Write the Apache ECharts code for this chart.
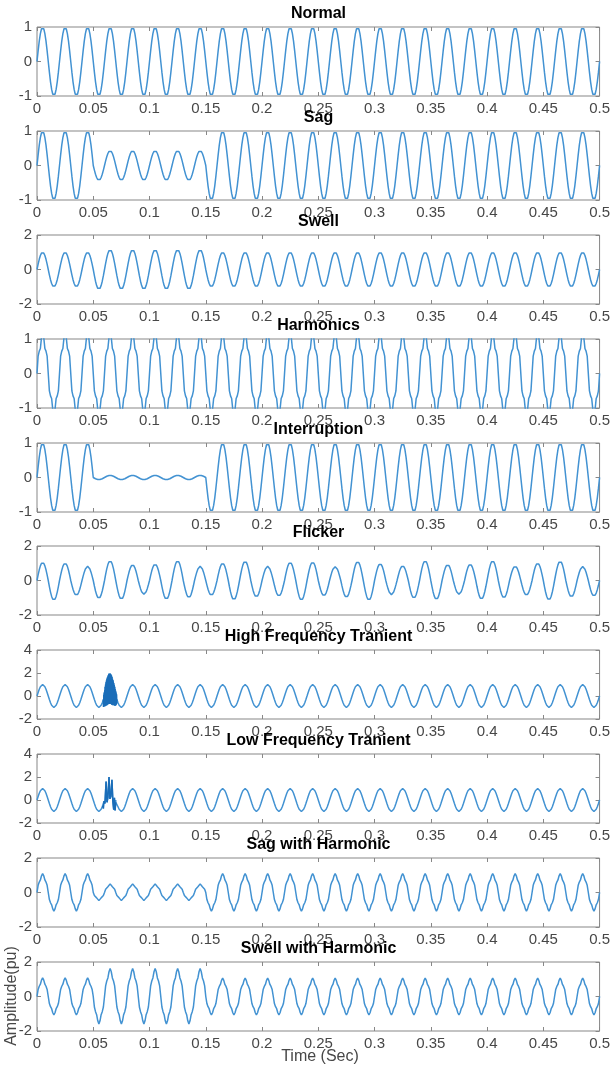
<!DOCTYPE html>
<html>
<head>
<meta charset="utf-8">
<title>Power quality disturbances</title>
<script src="https://cdn.jsdelivr.net/npm/echarts@6/dist/echarts.min.js"></script>
<style>
html, body { margin: 0; padding: 0; background: #fff; }
#chart { width: 613px; height: 1072px; }
</style>
</head>
<body>
<div id="chart"></div>
<script>
// ---- data ----
var titles = ['Normal', 'Sag', 'Swell', 'Harmonics', 'Interruption', 'Flicker',
  'High Frequency Tranient', 'Low Frequency Tranient', 'Sag with Harmonic', 'Swell with Harmonic'];
var xTickLabels = ['0', '0.05', '0.1', '0.15', '0.2', '0.25', '0.3', '0.35', '0.4', '0.45', '0.5'];
var yMins = [-1, -1, -2, -1, -1, -2, -2, -2, -2, -2];
var yMaxs = [1, 1, 2, 1, 1, 2, 4, 4, 2, 2];
var ySteps = [1, 1, 2, 1, 1, 2, 2, 2, 2, 2];

// one half cycle (0.01 s) of the 50 Hz wave, 10 samples, peak = 1
var sineShape = [0, 0.31, 0.59, 0.81, 0.95, 1, 0.95, 0.81, 0.59, 0.31];
// strongly distorted half cycle (goes past the axis and gets clipped flat)
var harmShape = [0, 0.46, 0.59, 0.66, 0.95, 1.15, 0.95, 0.66, 0.59, 0.46];
// mildly distorted half cycle, peak = 1
var harmShape2 = [0, 0.38, 0.55, 0.66, 0.88, 1, 0.88, 0.66, 0.55, 0.38];

// peak of each half cycle, 50 half cycles from 0 to 0.5 s
var normalAmp = [1, 1, 1, 1, 1, 1, 1, 1, 1, 1,  1, 1, 1, 1, 1, 1, 1, 1, 1, 1,
  1, 1, 1, 1, 1, 1, 1, 1, 1, 1,  1, 1, 1, 1, 1, 1, 1, 1, 1, 1,  1, 1, 1, 1, 1, 1, 1, 1, 1, 1];
var sagAmp = [1, 1, 1, 1, 1, 0.43, 0.43, 0.43, 0.43, 0.43,  0.43, 0.43, 0.43, 0.43, 0.43, 1, 1, 1, 1, 1,
  1, 1, 1, 1, 1, 1, 1, 1, 1, 1,  1, 1, 1, 1, 1, 1, 1, 1, 1, 1,  1, 1, 1, 1, 1, 1, 1, 1, 1, 1];
var swellAmp = [1, 1, 1, 1, 1, 1.15, 1.15, 1.15, 1.15, 1.15,  1.15, 1.15, 1.15, 1.15, 1.15, 1, 1, 1, 1, 1,
  1, 1, 1, 1, 1, 1, 1, 1, 1, 1,  1, 1, 1, 1, 1, 1, 1, 1, 1, 1,  1, 1, 1, 1, 1, 1, 1, 1, 1, 1];
var harmAmp = [1.1, 1.1, 1.1, 1.1, 1.1, 1.1, 1.1, 1.1, 1.1, 1.1,  1.1, 1.1, 1.1, 1.1, 1.1, 1.1, 1.1, 1.1, 1.1, 1.1,
  1.1, 1.1, 1.1, 1.1, 1.1, 1.1, 1.1, 1.1, 1.1, 1.1,  1.1, 1.1, 1.1, 1.1, 1.1, 1.1, 1.1, 1.1, 1.1, 1.1,
  1.1, 1.1, 1.1, 1.1, 1.1, 1.1, 1.1, 1.1, 1.1, 1.1];
var interAmp = [1, 1, 1, 1, 1, 0.06, 0.06, 0.06, 0.06, 0.06,  0.06, 0.06, 0.06, 0.06, 0.06, 1, 1, 1, 1, 1,
  1, 1, 1, 1, 1, 1, 1, 1, 1, 1,  1, 1, 1, 1, 1, 1, 1, 1, 1, 1,  1, 1, 1, 1, 1, 1, 1, 1, 1, 1];
var flickerAmp = [1.05, 1.14, 1.01, 0.86, 0.82, 1.03, 1.14, 1.09, 0.91, 0.8,
  0.95, 1.09, 1.14, 0.99, 0.82, 0.86, 1.0, 1.12, 1.12, 0.95,
  0.82, 0.9, 1.05, 1.14, 1.07, 0.88, 0.8, 0.97, 1.1, 1.14,
  0.97, 0.82, 0.85, 1.02, 1.14, 1.1, 0.92, 0.8, 0.94, 1.08,
  1.14, 1.0, 0.83, 0.85, 1.0, 1.13, 1.12, 0.95, 0.81, 0.9];
var hfAmp = normalAmp.slice();
var lfAmp = normalAmp.slice();
var sagHarmAmp = [1.1, 1.08, 1.1, 1.08, 1.1, 0.47, 0.5, 0.47, 0.5, 0.47,  0.5, 0.47, 0.5, 0.47, 0.5, 1.08, 1.1, 1.08, 1.1, 1.08,
  1.1, 1.08, 1.1, 1.08, 1.1, 1.08, 1.1, 1.08, 1.1, 1.08,  1.1, 1.08, 1.1, 1.08, 1.1, 1.08, 1.1, 1.08, 1.1, 1.08,
  1.1, 1.08, 1.1, 1.08, 1.1, 1.08, 1.1, 1.08, 1.1, 1.08];
var swellHarmAmp = [1.08, 1.07, 1.08, 1.07, 1.08, 1.6, 1.63, 1.6, 1.63, 1.6,  1.63, 1.6, 1.63, 1.6, 1.63, 1.07, 1.06, 1.07, 1.06, 1.07,
  1.06, 1.07, 1.06, 1.07, 1.06, 1.07, 1.06, 1.07, 1.06, 1.07,  1.06, 1.07, 1.06, 1.07, 1.06, 1.07, 1.06, 1.07, 1.06, 1.07,
  1.06, 1.07, 1.06, 1.07, 1.06, 1.07, 1.06, 1.07, 1.06, 1.07];

// high-frequency burst, 0.059..0.071 s, one sample every 0.0002 s
var hfBurstStart = 0.059;
var hfBurstStep = 0.0002;
var hfBurst = [-0.3, -0.95, 0.1, -0.9, 0.3, -0.9, 0.5, -0.9, 0.8, -0.85,
  1.0, -0.85, 1.2, -0.8, 1.35, -0.8, 1.5, -0.75, 1.6, -0.75,
  1.7, -0.7, 1.8, -0.7, 1.9, -0.7, 1.95, -0.7, 1.95, -0.7,
  1.95, -0.7, 1.9, -0.7, 1.85, -0.7, 1.75, -0.75, 1.65, -0.75,
  1.5, -0.75, 1.4, -0.8, 1.25, -0.8, 1.1, -0.8, 0.95, -0.8,
  0.8, -0.85, 0.6, -0.85, 0.45, -0.8, 0.3, -0.75, 0.15, -0.65, -0.3];
// low-frequency spikes, [time, value]
var lfSpikes = [[0.0582, -0.5], [0.0590, -0.75], [0.0596, -0.1], [0.0604, -0.3], [0.0614, 1.6], [0.0622, -0.2],
  [0.0630, 0.2], [0.0640, 2.0], [0.0648, 0.1], [0.0656, 0.3], [0.0666, 1.75], [0.0674, -0.1],
  [0.0682, -0.85], [0.0688, 0.2], [0.0694, -0.9], [0.0700, -0.2]];

var panelAmps = [normalAmp, sagAmp, swellAmp, harmAmp, interAmp, flickerAmp, hfAmp, lfAmp, sagHarmAmp, swellHarmAmp];
var panelShapes = [sineShape, sineShape, sineShape, harmShape, sineShape, sineShape, sineShape, sineShape, harmShape2, harmShape2];

(function () {
  // ---- layout ----
  var gridTops = [27, 131, 235, 339, 443, 546, 650, 754, 858, 962];
  var gridHeight = 69;
  var gridLeft = 37, gridRight = 13;
  var lineColor = '#4292d2';
  var burstColor = '#1a6db8';
  var boxColor = '#878787';
  var labelColor = '#474747';
  var fontFamily = '"Liberation Sans", Arial, sans-serif';

  function buildWave(amps, shape, from, to, extra) {
    var pts = [];
    for (var k = 0; k < amps.length; k++) {
      var sign = k % 2 === 0 ? 1 : -1;
      for (var j = 0; j < shape.length; j++) {
        var t = Math.round((k + j / shape.length) * 0.01 * 1e6) / 1e6;
        if (extra && t > from && t < to) continue;
        pts.push([t, sign * amps[k] * shape[j]]);
      }
    }
    pts.push([0.5, 0]);
    if (extra) {
      for (var e = 0; e < extra.length; e++) pts.push([extra[e][0], extra[e][1]]);
      pts.sort(function (a, b) { return a[0] - b[0]; });
    }
    return pts;
  }

  function makeTick() {
    return { show: true, inside: true, length: 4, lineStyle: { color: boxColor, width: 1 } };
  }

  function noLine() {
    return { show: false, onZero: false };
  }

  function xLabel(v) {
    return xTickLabels[Math.round(v / 0.05)];
  }

  var hfPoints = [];
  for (var h = 0; h < hfBurst.length; h++) {
    hfPoints.push([Math.round((hfBurstStart + h * hfBurstStep) * 1e6) / 1e6, hfBurst[h]]);
  }

  var grids = [], xAxes = [], yAxes = [], series = [], titleList = [];
  for (var i = 0; i < titles.length; i++) {
    var panelTop = gridTops[i];
    grids.push({ left: gridLeft, right: gridRight, top: panelTop, height: gridHeight,
      show: true, borderColor: boxColor, borderWidth: 1 });
    xAxes.push({ gridIndex: i, type: 'value', min: 0, max: 0.5, interval: 0.05, position: 'bottom',
      axisLine: noLine(), axisTick: makeTick(), splitLine: { show: false },
      axisLabel: { margin: 5, color: labelColor, fontSize: 15, fontFamily: fontFamily, formatter: xLabel } });
    xAxes.push({ gridIndex: i, type: 'value', min: 0, max: 0.5, interval: 0.05, position: 'top',
      axisLine: noLine(), axisTick: makeTick(), splitLine: { show: false }, axisLabel: { show: false } });
    yAxes.push({ gridIndex: i, type: 'value', min: yMins[i], max: yMaxs[i], interval: ySteps[i], position: 'left',
      axisLine: noLine(), axisTick: makeTick(), splitLine: { show: false },
      axisLabel: { margin: 5, color: labelColor, fontSize: 15, fontFamily: fontFamily } });
    yAxes.push({ gridIndex: i, type: 'value', min: yMins[i], max: yMaxs[i], interval: ySteps[i], position: 'right',
      axisLine: noLine(), axisTick: makeTick(), splitLine: { show: false }, axisLabel: { show: false } });

    var data;
    if (i === 6) data = buildWave(panelAmps[i], panelShapes[i], 0.059, 0.071, hfPoints);
    else if (i === 7) data = buildWave(panelAmps[i], panelShapes[i], 0.058, 0.07, lfSpikes);
    else data = buildWave(panelAmps[i], panelShapes[i]);

    series.push({ type: 'line', xAxisIndex: 2 * i, yAxisIndex: 2 * i, data: data,
      showSymbol: false, symbol: 'none', clip: true,
      lineStyle: { color: lineColor, width: 1.5 } });

    titleList.push({ text: titles[i], left: 318.5, top: panelTop - 21, textAlign: 'center', padding: 0,
      textStyle: { color: '#000', fontWeight: 'bold', fontSize: 16, fontFamily: fontFamily } });
  }

  // dense transient segments look darker where the strokes pile up
  series.push({ type: 'line', xAxisIndex: 12, yAxisIndex: 12, data: hfPoints, showSymbol: false, symbol: 'none',
    lineStyle: { color: burstColor, width: 1.5 } });
  series.push({ type: 'line', xAxisIndex: 14, yAxisIndex: 14, data: lfSpikes.map(function (p) { return [p[0], p[1]]; }),
    showSymbol: false, symbol: 'none', lineStyle: { color: burstColor, width: 1.5 } });

  var chart = echarts.init(document.getElementById('chart'));
  chart.setOption({
    backgroundColor: '#fff',
    animation: false,
    title: titleList,
    grid: grids,
    xAxis: xAxes,
    yAxis: yAxes,
    series: series,
    graphic: [
      { type: 'text', x: 12, y: 996, rotation: Math.PI / 2, z: 100,
        style: { text: 'Amplitude(pu)', fill: labelColor, font: '16px ' + fontFamily, align: 'center', verticalAlign: 'middle' } },
      { type: 'text', x: 320, y: 1057, z: 100,
        style: { text: 'Time (Sec)', fill: labelColor, font: '16px ' + fontFamily, align: 'center', verticalAlign: 'middle' } }
    ]
  });
})();
</script>
</body>
</html>
